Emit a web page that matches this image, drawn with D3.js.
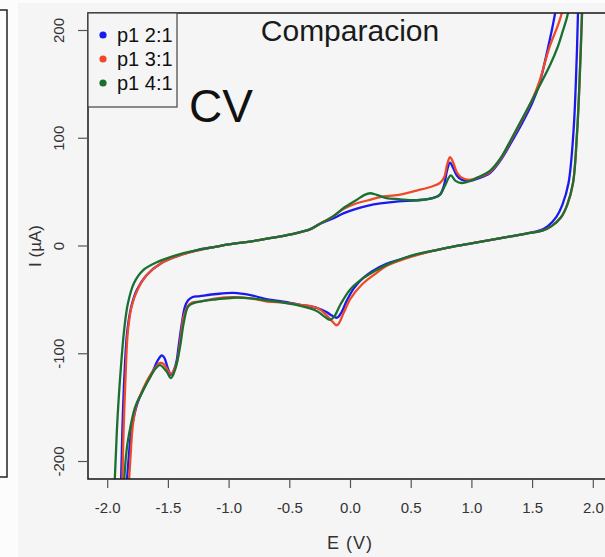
<!DOCTYPE html>
<html><head><meta charset="utf-8">
<script src="https://cdn.jsdelivr.net/npm/d3@7"></script>
<style>
body{margin:0;padding:0;background:#fcfcfc;}
svg{display:block;font-family:"Liberation Sans",Arial,Helvetica,sans-serif;}
</style></head>
<body>
<svg id="chart" width="605" height="557"></svg>
<script>
// ---------- DATA ----------
const seriesNames = ["p1 2:1", "p1 3:1", "p1 4:1"];
const seriesColors = ["#1a1aee", "#ee4a2a", "#1b7030"];
const xTicks = [-2.0, -1.5, -1.0, -0.5, 0.0, 0.5, 1.0, 1.5, 2.0];
const yTicks = [-200, -100, 0, 100, 200];
const yTickLabels = ["-200", "-100", "0", "100", "200"];

// p1 2:1 (blue) – full CV loop: anodic sweep then cathodic return
const p1_21_E = [-1.90,-1.885,-1.875,-1.86,-1.835,-1.80,-1.755,-1.68,-1.55,-1.40,-1.25,-1.10,-1.0,-0.75,-0.5,-0.41,-0.33,-0.25,-0.14,-0.05,0.05,0.15,0.25,0.40,0.55,0.68,0.74,0.775,0.80,0.824,0.85,0.88,0.92,0.99,1.05,1.15,1.24,1.32,1.42,1.50,1.56,1.62,1.69,1.74,1.90,
  1.885,1.878,1.86,1.84,1.80,1.75,1.70,1.63,1.565,1.45,1.30,1.15,1.0,0.85,0.68,0.55,0.41,0.30,0.18,0.10,0.03,-0.03,-0.07,-0.107,-0.15,-0.19,-0.27,-0.41,-0.55,-0.68,-0.82,-0.96,-1.10,-1.236,-1.30,-1.335,-1.36,-1.385,-1.41,-1.43,-1.455,-1.475,-1.50,-1.53,-1.55,-1.58,-1.63,-1.70,-1.75,-1.80,-1.825,-1.837,-1.855];
const p1_21_I = [-260,-216,-171,-125,-80,-56,-41,-28,-16,-9,-4,-1,1,5,10,12.5,15,20,25,30,34,37,39,41,42,44,47,56,70,77,72,65,61,60,62,67,79,94,114,132,150,178,216,260,330,
  260,216,150,104,58,38,26.5,18,14,11,8,5,2,-1,-5,-8.5,-13,-17,-24,-31,-40,-52,-62,-67,-65,-62,-58,-55,-52,-50,-46,-44,-45,-47,-48,-51,-57,-72,-92,-108,-117,-120,-114,-104,-102,-106,-118,-133,-146,-171,-200,-218,-260];

// p1 3:1 (red)
const p1_31_E = [-1.89,-1.875,-1.865,-1.85,-1.83,-1.80,-1.75,-1.67,-1.55,-1.40,-1.25,-1.10,-1.0,-0.75,-0.5,-0.41,-0.33,-0.25,-0.14,-0.05,0.05,0.15,0.25,0.40,0.55,0.68,0.74,0.775,0.80,0.824,0.85,0.88,0.92,0.99,1.05,1.15,1.24,1.32,1.42,1.50,1.56,1.64,1.745,1.79,1.95,
  1.92,1.91,1.89,1.87,1.837,1.79,1.74,1.66,1.59,1.45,1.30,1.15,1.0,0.85,0.68,0.55,0.41,0.30,0.20,0.10,0.0,-0.05,-0.107,-0.15,-0.19,-0.27,-0.41,-0.55,-0.68,-0.82,-0.96,-1.10,-1.236,-1.30,-1.335,-1.37,-1.40,-1.43,-1.475,-1.50,-1.535,-1.565,-1.60,-1.66,-1.72,-1.76,-1.79,-1.81,-1.82,-1.835];
const p1_31_I = [-260,-216,-171,-125,-80,-57,-41,-27,-16,-9,-4.5,-1,1,5,10,12.5,15,20,27,34,39,42,45,47,51,55,58,63,75,82,77,68,63,61,63,68,80,96,117,135,152,183,216,260,330,
  260,216,150,104,58,38,26.5,18,14,11,8,5,2,-1,-5,-9,-14,-19,-27,-36,-50,-62,-74,-70,-65,-58,-55,-53,-52,-49,-48,-49,-52,-53,-56,-66,-90,-110,-119,-116,-110,-109,-113,-123,-137,-148,-168,-200,-218,-260];

// p1 4:1 (green)
const p1_41_E = [-1.95,-1.937,-1.92,-1.895,-1.86,-1.83,-1.78,-1.705,-1.58,-1.40,-1.25,-1.10,-1.0,-0.75,-0.5,-0.41,-0.33,-0.25,-0.14,-0.05,0.05,0.12,0.165,0.22,0.30,0.40,0.55,0.68,0.74,0.78,0.83,0.87,0.92,0.99,1.05,1.15,1.24,1.32,1.42,1.51,1.565,1.65,1.71,1.75,1.796,1.84,1.97,
  1.925,1.912,1.89,1.87,1.837,1.79,1.74,1.66,1.59,1.45,1.30,1.15,1.0,0.85,0.68,0.55,0.41,0.30,0.20,0.10,0.0,-0.08,-0.13,-0.165,-0.21,-0.27,-0.41,-0.55,-0.68,-0.82,-0.96,-1.10,-1.236,-1.30,-1.335,-1.37,-1.40,-1.44,-1.475,-1.51,-1.565,-1.60,-1.66,-1.72,-1.77,-1.82,-1.84,-1.86,-1.875];
const p1_41_I = [-260,-216,-171,-125,-78,-54,-35,-23,-15,-8,-4,-1,1,5,10,12.5,15,20,27,35,42,47,48.5,47,44,43,42,44,47,55,65,60,58,60,63,69,81,97,118,137,149,168,184,198,216,260,330,
  260,216,150,104,58,38,26.5,18,14,11,8,5,2,-1,-5,-8,-13,-18,-24,-31,-41,-55,-66,-69,-66,-61,-56,-53,-51,-49,-48.5,-50,-52,-54,-57,-72,-94,-115,-123,-117,-111,-114,-125,-138,-150,-175,-190,-218,-260];

// ---------- CHART ----------
const svg = d3.select("#chart");
const W = 605, H = 557;
const plot = {left: 88, top: 13, right: 640, bottom: 479};

// panel background
svg.append("rect").attr("x", 0).attr("y", 0).attr("width", W).attr("height", H).attr("fill", "#fcfcfc");
svg.append("rect").attr("x", 18).attr("y", 3).attr("width", W - 18).attr("height", H - 3).attr("fill", "#f5f5f5");
// remnant of neighbouring panel frame
svg.append("path").attr("d", "M0,10 H7 V477 H0").attr("fill", "none").attr("stroke", "#222").attr("stroke-width", 1.5);

const x = d3.scaleLinear().domain([-2, 2]).range([107.2, 592.8]);
const y = d3.scaleLinear().domain([-200, 200]).range([461, 30]);

svg.append("clipPath").attr("id", "clip").append("rect")
  .attr("x", plot.left).attr("y", plot.top)
  .attr("width", plot.right - plot.left).attr("height", plot.bottom - plot.top);

const line = d3.line().x(d => x(d[0])).y(d => y(d[1])).curve(d3.curveCatmullRom.alpha(0.5));
const series = [
  {name: seriesNames[0], color: seriesColors[0], pts: d3.zip(p1_21_E, p1_21_I)},
  {name: seriesNames[1], color: seriesColors[1], pts: d3.zip(p1_31_E, p1_31_I)},
  {name: seriesNames[2], color: seriesColors[2], pts: d3.zip(p1_41_E, p1_41_I)}
];
const g = svg.append("g").attr("clip-path", "url(#clip)");
g.selectAll("path.cv").data(series).join("path").attr("class", "cv")
  .attr("d", d => line(d.pts)).attr("fill", "none")
  .attr("stroke", d => d.color).attr("stroke-width", 2.3).attr("stroke-linejoin", "round");

// frame
svg.append("rect").attr("x", plot.left).attr("y", plot.top)
  .attr("width", plot.right - plot.left).attr("height", plot.bottom - plot.top)
  .attr("fill", "none").attr("stroke", "#222").attr("stroke-width", 1.6);

// x axis
const xAxis = svg.append("g").attr("transform", `translate(0,${plot.bottom})`)
  .call(d3.axisBottom(x).tickValues(xTicks).tickSize(9).tickFormat(d => d.toFixed(1)));
xAxis.select(".domain").remove();
xAxis.selectAll(".tick line").attr("stroke", "#555").attr("stroke-width", 1.2);
xAxis.selectAll(".tick text").attr("y", 29).attr("dy", "0.35em").attr("fill", "#333")
  .style("font-size", "15px");

// y axis
const yAxis = svg.append("g").attr("transform", `translate(${plot.left},0)`)
  .call(d3.axisLeft(y).tickValues(yTicks).tickSize(10).tickFormat((d, i) => yTickLabels[i]));
yAxis.select(".domain").remove();
yAxis.selectAll(".tick line").attr("stroke", "#555").attr("stroke-width", 1.2);
yAxis.selectAll(".tick text").attr("x", null).attr("dy", "0.35em")
  .attr("text-anchor", "middle").attr("transform", "translate(-29,0) rotate(-90)")
  .attr("fill", "#333").style("font-size", "15px");

// axis titles
svg.append("text").attr("x", 350).attr("y", 543).attr("dy", "0.35em").attr("text-anchor", "middle")
  .attr("fill", "#333").style("font-size", "18px").style("letter-spacing", "1px").text("E (V)");
svg.append("text").attr("transform", "translate(35,246) rotate(-90)").attr("dy", "0.35em")
  .attr("text-anchor", "middle").attr("fill", "#333").style("font-size", "17px").text("I (µA)");

// title and annotation
svg.append("text").attr("x", 350).attr("y", 41).attr("text-anchor", "middle")
  .attr("fill", "#1a1a1a").style("font-size", "30px").text("Comparacion");
svg.append("text").attr("x", 189).attr("y", 122).attr("fill", "#111")
  .style("font-size", "46px").text("CV");

// legend
const leg = svg.append("g");
leg.append("rect").attr("x", plot.left).attr("y", plot.top).attr("width", 89).attr("height", 94)
  .attr("fill", "#f5f5f5").attr("stroke", "#444").attr("stroke-width", 1.2);
const li = leg.selectAll("g.item").data(series).join("g").attr("class", "item")
  .attr("transform", (d, i) => `translate(0,${35 + i * 24})`);
li.append("circle").attr("cx", 103).attr("cy", 0).attr("r", 3.6).attr("fill", d => d.color);
li.append("text").attr("x", 117).attr("dy", "0.35em").attr("fill", "#111")
  .style("font-size", "20px").text(d => d.name);
</script>
</body></html>
